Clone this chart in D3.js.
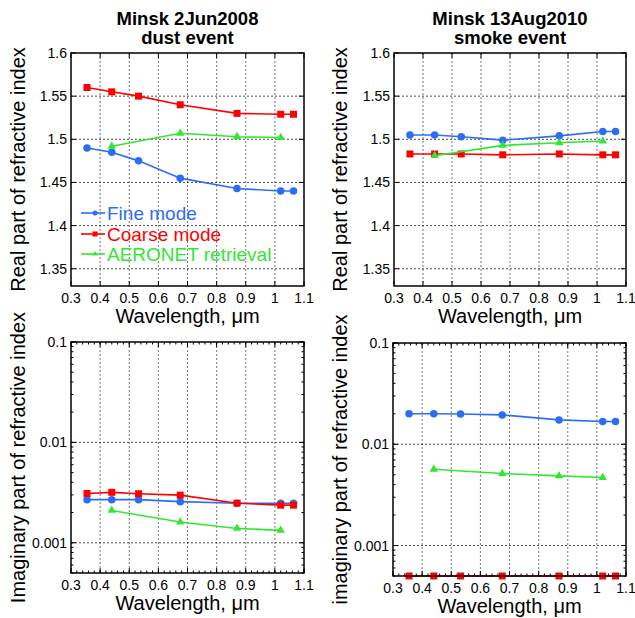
<!DOCTYPE html>
<html>
<head>
<meta charset="utf-8">
<script src="https://cdn.jsdelivr.net/npm/d3@7/dist/d3.min.js"></script>
<style>
  html, body { margin: 0; padding: 0; background: #fff; }
  svg { display: block; font-family: "Liberation Sans", Arial, sans-serif; }
</style>
</head>
<body>
<svg id="chart" width="635" height="618"></svg>
<script>
// Wavelengths (µm) of the retrievals
const wavelengths = [0.355, 0.44, 0.532, 0.675, 0.87, 1.02, 1.064];
const aeronetWavelengths = [0.44, 0.675, 0.87, 1.02];

// Minsk 2 Jun 2008, dust event
const dustRealFine = [1.490, 1.485, 1.475, 1.455, 1.443, 1.440, 1.440];
const dustRealCoarse = [1.560, 1.555, 1.550, 1.540, 1.530, 1.529, 1.529];
const dustRealAeronet = [1.492, 1.507, 1.503, 1.502];
const dustImagFine = [0.00269, 0.00269, 0.00269, 0.00257, 0.00248, 0.00248, 0.00248];
const dustImagCoarse = [0.00310, 0.00318, 0.00308, 0.00298, 0.00248, 0.00237, 0.00237];
const dustImagAeronet = [0.00210, 0.00161, 0.00139, 0.00133];

// Minsk 13 Aug 2010, smoke event
const smokeRealFine = [1.505, 1.505, 1.503, 1.499, 1.504, 1.509, 1.509];
const smokeRealCoarse = [1.483, 1.483, 1.483, 1.482, 1.483, 1.482, 1.482];
const smokeRealAeronet = [1.481, 1.493, 1.496, 1.498];
const smokeImagFine = [0.0200, 0.0200, 0.0199, 0.0195, 0.0174, 0.0168, 0.0168];
const smokeImagCoarse = [0.0005, 0.0005, 0.0005, 0.0005, 0.0005, 0.0005, 0.0005];
const smokeImagAeronet = [0.00567, 0.00514, 0.00487, 0.00469];

// Tick labels
const xTicks = [0.3, 0.4, 0.5, 0.6, 0.7, 0.8, 0.9, 1, 1.1];
const realTicks = [1.35, 1.4, 1.45, 1.5, 1.55, 1.6];
const imagTicks = [0.001, 0.01, 0.1];
const seriesNames = ["Fine mode", "Coarse mode", "AERONET retrieval"];
const titles = [["Minsk 2Jun2008", "dust event"], ["Minsk 13Aug2010", "smoke event"]];

// Styling
const colors = { fine: "#2b6ef5", coarse: "#ff0000", aeronet: "#33e633" };
const fmt = d => String(+d.toFixed(3));

const svg = d3.select("#chart");

const panels = [
  { box: [71, 304, 53, 286], log: false, ylab: "Real part of refractive index", ylx: 25,
    fine: dustRealFine, coarse: dustRealCoarse, aer: dustRealAeronet, title: titles[0], legend: true },
  { box: [394, 626, 53, 286], log: false, ylab: "Real part of refractive index", ylx: 347,
    fine: smokeRealFine, coarse: smokeRealCoarse, aer: smokeRealAeronet, title: titles[1] },
  { box: [71, 304, 342, 573], log: true, ylab: "Imaginary part of refractive index", ylx: 25,
    fine: dustImagFine, coarse: dustImagCoarse, aer: dustImagAeronet },
  { box: [393, 626, 343, 576], log: true, ylab: "imaginary part of refractive index", ylx: 347,
    fine: smokeImagFine, coarse: smokeImagCoarse, aer: smokeImagAeronet }
];

function markerPath(kind, s) {
  if (kind === "circle") return d3.symbol(d3.symbolCircle, Math.PI * s * s / 4)();
  if (kind === "square") return d3.symbol(d3.symbolSquare, s * s)();
  return d3.symbol(d3.symbolTriangle, s * s * 0.48)();
}

panels.forEach(p => {
  const [x0, x1, y0, y1] = p.box;
  const x = d3.scaleLinear().domain([0.3, 1.1]).range([x0, x1]);
  const y = p.log
    ? d3.scaleLog().domain([0.0005, 0.1]).range([y1, y0])
    : d3.scaleLinear().domain([1.33, 1.6]).range([y1, y0]);
  const yTicks = p.log ? imagTicks : realTicks;
  const g = svg.append("g");

  // grid
  const grid = g.append("g").attr("stroke", "#555").attr("stroke-width", 0.8)
    .attr("stroke-dasharray", "2,2");
  xTicks.filter(t => t > 0.31 && t < 1.09).forEach(t => {
    grid.append("line").attr("x1", x(t)).attr("x2", x(t)).attr("y1", y0).attr("y2", y1);
  });
  yTicks.filter(t => y(t) > y0 + 1 && y(t) < y1 - 1).forEach(t => {
    grid.append("line").attr("x1", x0).attr("x2", x1).attr("y1", y(t)).attr("y2", y(t))
      .attr("stroke", "#222");
  });

  // inward ticks on all four sides
  const axG = g.append("g").attr("stroke", "#000").attr("stroke-width", 1);
  const xMinor = d3.range(0.3, 1.1001, 0.02);
  xTicks.forEach(t => {
    axG.append("line").attr("x1", x(t)).attr("x2", x(t)).attr("y1", y1).attr("y2", y1 - 5);
    axG.append("line").attr("x1", x(t)).attr("x2", x(t)).attr("y1", y0).attr("y2", y0 + 5);
  });
  yTicks.forEach(t => {
    axG.append("line").attr("x1", x0).attr("x2", x0 + 5).attr("y1", y(t)).attr("y2", y(t));
    axG.append("line").attr("x1", x1).attr("x2", x1 - 5).attr("y1", y(t)).attr("y2", y(t));
  });
  if (p.log) {
    xMinor.forEach(t => {
      axG.append("line").attr("x1", x(t)).attr("x2", x(t)).attr("y1", y1).attr("y2", y1 - 2.5);
      axG.append("line").attr("x1", x(t)).attr("x2", x(t)).attr("y1", y0).attr("y2", y0 + 2.5);
    });
    y.ticks(20).forEach(t => {
      axG.append("line").attr("x1", x0).attr("x2", x0 + 2.5).attr("y1", y(t)).attr("y2", y(t));
      axG.append("line").attr("x1", x1).attr("x2", x1 - 2.5).attr("y1", y(t)).attr("y2", y(t));
    });
  }

  // tick labels
  g.append("g").attr("font-size", 14).attr("text-anchor", "middle").selectAll("text")
    .data(xTicks).join("text")
    .attr("x", d => x(d)).attr("y", y1 + 17).text(fmt);
  g.append("g").attr("font-size", 14).attr("text-anchor", "end").selectAll("text")
    .data(yTicks).join("text")
    .attr("x", x0 - 4).attr("y", d => y(d) + 5).text(fmt);

  // axis titles
  g.append("text").attr("x", (x0 + x1) / 2).attr("y", y1 + 37).attr("text-anchor", "middle")
    .attr("font-size", 20).text("Wavelength, \u03bcm");
  g.append("text").attr("transform", `translate(${p.ylx},${(y0 + y1) / 2}) rotate(-90)`)
    .attr("text-anchor", "middle").attr("font-size", 20).text(p.ylab);

  // panel title, two lines
  if (p.title) {
    [25, 44].forEach((ty, i) => {
      g.append("text").attr("x", (x0 + x1) / 2).attr("y", ty).attr("text-anchor", "middle")
        .attr("font-size", 18.5).attr("font-weight", "bold").text(p.title[i]);
    });
  }

  // data series
  const clipId = "clip" + x0 + "_" + y0;
  svg.append("clipPath").attr("id", clipId).append("rect")
    .attr("x", x0 - 6).attr("y", y0).attr("width", x1 - x0 + 12).attr("height", y1 - y0 + 6);
  const dg = g.append("g").attr("clip-path", `url(#${clipId})`);
  const series = [
    { xs: wavelengths, ys: p.fine, color: colors.fine, kind: "circle", size: 7.5 },
    { xs: wavelengths, ys: p.coarse, color: colors.coarse, kind: "square", size: 7 },
    { xs: aeronetWavelengths, ys: p.aer, color: colors.aeronet, kind: "triangle", size: 8 }
  ];
  series.forEach(s => {
    const pts = s.xs.map((w, i) => [w, s.ys[i]]);
    dg.append("path").datum(pts)
      .attr("fill", "none").attr("stroke", s.color).attr("stroke-width", 1.6)
      .attr("d", d3.line().x(d => x(d[0])).y(d => y(d[1])));
    dg.selectAll(null).data(pts).join("path")
      .attr("transform", d => `translate(${x(d[0])},${y(d[1])})`)
      .attr("d", markerPath(s.kind, s.size)).attr("fill", s.color);
  });

  // frame
  g.append("rect").attr("x", x0).attr("y", y0).attr("width", x1 - x0).attr("height", y1 - y0)
    .attr("fill", "none").attr("stroke", "#000").attr("stroke-width", 1.5);

  // legend
  if (p.legend) {
    const lg = g.append("g");
    const kinds = ["circle", "square", "triangle"];
    const cols = [colors.fine, colors.coarse, colors.aeronet];
    const rows = [213, 234, 254];
    seriesNames.forEach((name, i) => {
      lg.append("line").attr("x1", 81).attr("x2", 105).attr("y1", rows[i]).attr("y2", rows[i])
        .attr("stroke", cols[i]).attr("stroke-width", 1.6);
      lg.append("path").attr("transform", `translate(95,${rows[i]})`)
        .attr("d", markerPath(kinds[i], 5)).attr("fill", cols[i]);
      lg.append("text").attr("x", 107).attr("y", rows[i] + 7).attr("font-size", 19)
        .attr("fill", cols[i]).text(name);
    });
  }
});
</script>
</body>
</html>
